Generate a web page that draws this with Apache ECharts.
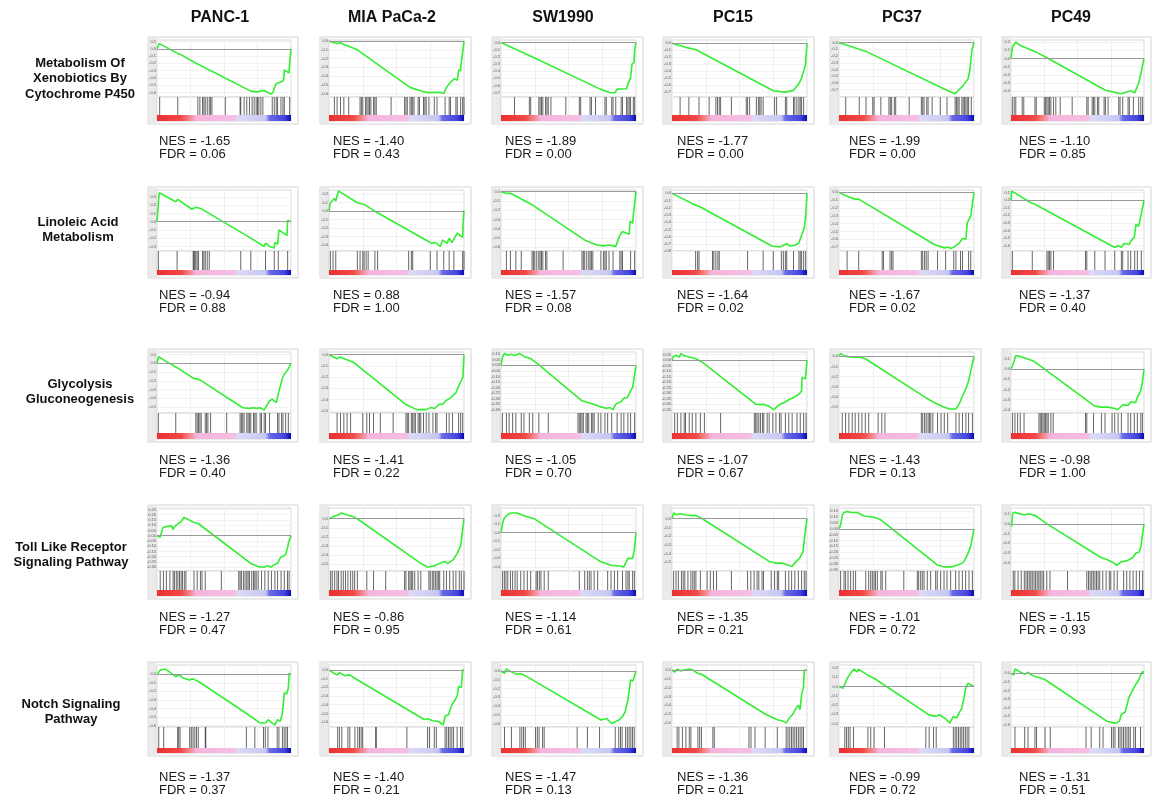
<!DOCTYPE html>
<html>
<head>
<meta charset="utf-8">
<script src="https://cdn.jsdelivr.net/npm/echarts@6.0.0/dist/echarts.min.js"></script>
<style>
  html, body { margin: 0; padding: 0; background: #fff; }
  #main { width: 1153px; height: 801px; }
</style>
</head>
<body>
<div id="main"></div>
<script>
const cellLines = ['PANC-1', 'MIA PaCa-2', 'SW1990', 'PC15', 'PC37', 'PC49'];
const pathways = [
  ['Metabolism Of', 'Xenobiotics By', 'Cytochrome P450'],
  ['Linoleic Acid', 'Metabolism'],
  ['Glycolysis', 'Gluconeogenesis'],
  ['Toll Like Receptor', 'Signaling Pathway'],
  ['Notch Signaling', 'Pathway']
];
const nesValues = [
  ['-1.65', '-1.40', '-1.89', '-1.77', '-1.99', '-1.10'],
  ['-0.94', '0.88', '-1.57', '-1.64', '-1.67', '-1.37'],
  ['-1.36', '-1.41', '-1.05', '-1.07', '-1.43', '-0.98'],
  ['-1.27', '-0.86', '-1.14', '-1.35', '-1.01', '-1.15'],
  ['-1.37', '-1.40', '-1.47', '-1.36', '-0.99', '-1.31']
];
const fdrValues = [
  ['0.06', '0.43', '0.00', '0.00', '0.00', '0.85'],
  ['0.88', '1.00', '0.08', '0.02', '0.02', '0.40'],
  ['0.40', '0.22', '0.70', '0.67', '0.13', '1.00'],
  ['0.47', '0.95', '0.61', '0.21', '0.72', '0.93'],
  ['0.37', '0.21', '0.13', '0.21', '0.72', '0.51']
];

// running enrichment score: [position in ranked list (%), ES]
const esXeno = [
  [[0,0],[1.7,0.07],[15,-0.06],[17.5,-0.077],[28.8,-0.195],[70,-0.58],[74,-0.59],[80,-0.57],[85,-0.62],[86.5,-0.6],[87.5,-0.545],[88.8,-0.48],[92.5,-0.455],[94.5,-0.43],[95,-0.29],[98.5,-0.33],[99,-0.2],[100,0]],
  [[0,0],[3.7,-0.02],[6,-0.027],[8.5,-0.02],[12,-0.046],[21,-0.1],[60,-0.53],[70,-0.58],[74,-0.59],[82,-0.585],[85,-0.6],[86.6,-0.54],[90,-0.47],[93,-0.43],[95,-0.45],[96,-0.33],[97.5,-0.34],[98,-0.24],[99.3,-0.1],[100,0]],
  [[0,0],[10,-0.086],[21,-0.18],[73.5,-0.65],[81,-0.7],[84.5,-0.7],[86,-0.65],[93,-0.645],[94,-0.58],[96,-0.49],[97,-0.3],[98.5,-0.28],[99,-0.1],[100,0]],
  [[0,0],[10,-0.06],[17.5,-0.09],[75,-0.68],[84,-0.7],[90,-0.675],[94,-0.58],[96,-0.5],[97.5,-0.4],[98.8,-0.32],[100,0]],
  [[0,0],[5,-0.03],[20,-0.13],[81,-0.72],[86,-0.76],[88.5,-0.71],[92,-0.64],[95.6,-0.54],[97,-0.4],[98.5,-0.1],[100,0]],
  [[0,0],[1,0.137],[3.6,0.2],[7,0.157],[13,0.117],[19,0.077],[28,0],[71,-0.387],[83,-0.43],[90,-0.395],[93,-0.42],[94,-0.42],[95,-0.34],[96,-0.3],[97.6,-0.19],[98.5,-0.17],[100,0]]
];
const esLinoleic = [
  [[0,0],[0.8,0.18],[1.7,0.35],[14,0.24],[15.5,0.27],[26,0.15],[29,0.175],[32.5,0.16],[69,-0.19],[80,-0.3],[81,-0.26],[84,-0.3],[87.5,-0.32],[88,-0.25],[90,-0.275],[91,-0.1],[97,-0.17],[97.5,0.017],[100,0]],
  [[0,0],[1,0.1],[4,0.15],[5,0.12],[7,0.24],[21,0.1],[26,0.08],[34,0],[74,-0.36],[76,-0.38],[79,-0.37],[82.5,-0.42],[84,-0.34],[87.5,-0.38],[89,-0.32],[91,-0.37],[95,-0.26],[99,-0.31],[99.3,-0.16],[100,0.01]],
  [[0,0],[3.7,-0.018],[7,-0.018],[12,-0.054],[24,-0.15],[63,-0.53],[71,-0.575],[75.6,-0.585],[80,-0.575],[85,-0.59],[88,-0.47],[90,-0.43],[95,-0.46],[95.6,-0.32],[97.6,-0.34],[98,-0.25],[100,0]],
  [[0,0],[16,-0.15],[21,-0.19],[74,-0.73],[80,-0.745],[85,-0.7],[87.5,-0.73],[91,-0.72],[94,-0.69],[95,-0.71],[96,-0.58],[98,-0.48],[99,-0.32],[100,0]],
  [[0,0],[5,-0.043],[6,-0.03],[12,-0.087],[14.6,-0.087],[71,-0.67],[78,-0.71],[80.5,-0.7],[83,-0.717],[85,-0.7],[89,-0.65],[91.5,-0.59],[94,-0.6],[95,-0.39],[97.6,-0.3],[98.8,-0.3],[100,0]],
  [[0,0],[0.7,0.12],[14.6,-0.03],[18,-0.054],[75.6,-0.6],[78,-0.62],[80.5,-0.6],[83,-0.62],[85,-0.57],[89,-0.58],[90,-0.54],[92.7,-0.49],[94,-0.32],[96,-0.345],[97.6,-0.21],[100,0]]
];
const esGlyco = [
  [[0,0],[1.2,0.075],[7,0.02],[15,-0.05],[27,-0.17],[32,-0.19],[64,-0.51],[69,-0.517],[72,-0.51],[74,-0.517],[77,-0.51],[80,-0.535],[84,-0.43],[86,-0.41],[89,-0.45],[91,-0.32],[94,-0.15],[97.5,-0.075],[100,0]],
  [[0,0],[6,-0.036],[8,-0.021],[18,-0.067],[57,-0.445],[65,-0.49],[72,-0.49],[75.6,-0.47],[78,-0.48],[82,-0.44],[84,-0.445],[86.6,-0.41],[90,-0.385],[94,-0.34],[96,-0.28],[98,-0.23],[99.2,-0.2],[100,0]],
  [[0,0],[1.2,0.076],[2.5,0.107],[5,0.091],[7.4,0.1],[10,0.088],[13.6,0.107],[17,0.08],[22,0.061],[27,0.015],[60,-0.32],[67,-0.345],[74,-0.375],[78,-0.387],[80.5,-0.38],[83,-0.4],[85,-0.35],[89,-0.326],[91,-0.296],[93.6,-0.29],[96,-0.23],[97.5,-0.2],[98.8,-0.21],[100,0]],
  [[0,0],[1,0.034],[3,0.043],[5.4,0.028],[6.6,0.06],[9,0.04],[12.8,0.028],[17.7,0.012],[22.6,-0.02],[62,-0.4],[65.6,-0.404],[68,-0.4],[72,-0.42],[75.4,-0.45],[78,-0.42],[80,-0.4],[84,-0.38],[86.5,-0.36],[90,-0.34],[94,-0.31],[96,-0.28],[96.3,-0.157],[98.8,-0.17],[100,0]],
  [[0,0],[1.2,0.027],[5,0],[10,-0.007],[14.6,-0.007],[19.5,-0.023],[66,-0.42],[71,-0.457],[78,-0.5],[82,-0.517],[86.6,-0.517],[89,-0.47],[91.5,-0.39],[94,-0.32],[96,-0.24],[98,-0.12],[100,0]],
  [[0,0],[1.2,0.033],[2.4,0.05],[3.6,0.13],[7.3,0.12],[12,0.1],[17,0.076],[24,0.01],[63,-0.363],[68,-0.373],[73,-0.373],[78,-0.386],[80.5,-0.396],[84,-0.35],[88,-0.356],[90,-0.32],[93.6,-0.33],[95,-0.28],[97.6,-0.21],[98.8,-0.13],[100,0]]
];
const esToll = [
  [[0,0],[2.4,-0.015],[3.6,-0.03],[4.3,0.075],[6,0.084],[8.4,0.09],[9.6,0.075],[10.8,0.096],[12,0.06],[13,0.084],[15.6,0.114],[18,0.135],[20,0.174],[23,0.156],[27.6,0.126],[31,0.114],[70.7,-0.27],[75.5,-0.294],[80,-0.3],[82.5,-0.285],[85,-0.3],[87.5,-0.276],[90,-0.264],[92,-0.21],[96,-0.18],[97.6,-0.105],[98.3,-0.06],[100,0]],
  [[0,0],[3.5,0.026],[7,0.044],[9.4,0.063],[13,0.044],[18.8,0.018],[22,-0.011],[68,-0.49],[73,-0.53],[77.6,-0.52],[82,-0.49],[86,-0.47],[88,-0.49],[92,-0.45],[95,-0.38],[97.6,-0.29],[99,-0.12],[100,0]],
  [[0,0],[1.2,0.11],[2.5,0.17],[5,0.21],[7.4,0.227],[12,0.227],[17,0.196],[25,0.157],[74,-0.34],[81.5,-0.38],[89,-0.392],[91,-0.4],[94,-0.3],[97.5,-0.3],[98.8,-0.2],[100,0]],
  [[0,0],[1.2,0.065],[3.5,0.046],[5.9,0.058],[10.6,0.042],[15,0.035],[17.5,0.038],[22.5,0],[72,-0.49],[77,-0.51],[81.5,-0.51],[86,-0.53],[88.6,-0.55],[91,-0.51],[94.6,-0.45],[97,-0.38],[98,-0.24],[99,-0.11],[100,0]],
  [[0,0],[1.2,0.035],[2.5,0.12],[3.7,0.14],[6,0.15],[8.6,0.14],[13.6,0.14],[18.5,0.11],[26,0.1],[31,0.078],[73,-0.31],[78,-0.326],[83,-0.326],[88,-0.31],[90,-0.3],[92.6,-0.28],[95,-0.225],[97.5,-0.15],[98.8,-0.16],[100,0]],
  [[0,0],[0.5,-0.028],[1.2,0.11],[2.9,0.118],[6.5,0.104],[10,0.094],[13.7,0.104],[18.5,0.083],[22,0.049],[27,0],[67.6,-0.347],[72,-0.368],[77,-0.4],[79.6,-0.427],[83,-0.39],[87,-0.382],[89,-0.368],[91.6,-0.347],[94,-0.3],[96.4,-0.29],[97.6,-0.24],[100,0]]
];
const esNotch = [
  [[0,0],[1.3,-0.015],[2.6,0.05],[3.8,0.04],[5.9,0.062],[9,0.03],[14,-0.027],[16.7,-0.008],[19,-0.04],[24,-0.066],[26.7,-0.054],[31,-0.085],[68,-0.47],[77,-0.57],[81,-0.57],[83,-0.53],[86,-0.57],[88,-0.59],[90,-0.53],[92,-0.55],[93.6,-0.45],[95,-0.22],[96.7,-0.23],[98,-0.16],[98.7,0.01],[100,0]],
  [[0,0],[3.8,-0.04],[6.4,-0.057],[7.7,-0.027],[11.5,-0.065],[15.4,-0.057],[19,-0.095],[70.5,-0.57],[73,-0.56],[77,-0.584],[80.8,-0.59],[84.6,-0.63],[86,-0.53],[88.5,-0.515],[91,-0.4],[93.6,-0.34],[94.9,-0.3],[96,-0.19],[98,-0.2],[99,0],[100,0]],
  [[0,0],[1.3,-0.008],[2.6,-0.027],[3.8,0.023],[6.4,0],[7.7,0.011],[11.5,-0.038],[14,-0.027],[18,-0.053],[74,-0.56],[78,-0.542],[82,-0.6],[84.6,-0.58],[87.2,-0.562],[90,-0.52],[92,-0.466],[94,-0.33],[96,-0.1],[97.7,-0.115],[100,0]],
  [[0,0],[2,-0.026],[3.8,0.011],[6.4,-0.011],[9,0],[12.8,0.011],[15.4,0],[19,-0.038],[21.8,-0.049],[69,-0.5],[78,-0.564],[82,-0.58],[84.6,-0.6],[87,-0.545],[90,-0.49],[92,-0.43],[93.6,-0.4],[94.9,-0.45],[96,-0.28],[97.4,-0.2],[98,0],[100,0]],
  [[0,0],[3,-0.018],[4.3,-0.036],[5.6,0.072],[6.9,0.108],[9.4,0.16],[11.2,0.19],[13.3,0.16],[14.5,0.19],[21,0.126],[23.5,0.108],[26,0.09],[67,-0.31],[72,-0.324],[74.5,-0.306],[79.6,-0.36],[82,-0.396],[84.7,-0.324],[87.2,-0.342],[88.5,-0.3],[91,-0.234],[92.3,-0.144],[93.6,-0.036],[95.4,0.036],[100,0]],
  [[0,0],[2,-0.02],[3,0.05],[6.4,0.02],[10.3,-0.012],[12.8,0.012],[15.4,-0.02],[19,-0.04],[23,-0.058],[26,-0.078],[72,-0.56],[77,-0.58],[79.5,-0.58],[81.5,-0.56],[83,-0.48],[86,-0.45],[88.5,-0.29],[91,-0.21],[93.6,-0.136],[96,-0.078],[97.4,-0.058],[98.7,0.02],[100,0.01]]
];

// gene set members along the ranked list (%)
const hitsXeno = [
  [2,15.5,30.5,32,34,35,36,37.5,39,40,41,51,62,62.5,65,67,69,71,72.5,74,75,76,77.5,79,86,87.5,89,90,92.5,94,95,99],
  [4,6,8.5,11,14.6,23,24,25,27,28,29,30,31,33,34,35,46,56,57,58,60,61,62,63,66,67,70,71,72,74,78,80,86,89,90,94,95,97.5,99,100],
  [10,21,22,28,29,30,31,33,34,35,37,48,58,59,66,67,70,77,78,82,83,85,89,90,93,94,95,96,98,99],
  [6,12.5,20,27.5,32.5,33.7,35,36,44,55,56,57.5,62.5,64,65,66,67.5,76,77.5,84,85,90,91,92.5,94,95,96,97.5],
  [5,15,20,25,26,31,37,38,39,41,42,52,61,62,63,65,66,69,75,80,86,87,88,89,91,92,93,94,95,96,98],
  [1,2.4,3.6,8.4,9.6,18,19,25,26,27,28,29,30,32,33.7,37,46,57,58,61,62,63,65,66,70,71,73,81,82,84,88,89,92,96,97.6,99]
];
const hitsLinoleic = [
  [1,15,27,27.5,28.2,29,30,31,34,35,36,37.5,39,62.5,70,81,87.5,90.5,97.5],
  [1,3,5,21,23,25,26,27.5,29,34,36,59,61,62,75,80,85,89,92.5,99,100],
  [4,7,11,15,23,24,25,26.5,28,29,30,31,33,34,46,60,61,62,63.5,65,66,67,68,74,76,77,78,80,83,88,89,90,96,99],
  [17.5,19,20,30,31,32.5,34,35,56,67.5,75,81,82.5,84,85,90,94,95,96,97.5,99],
  [6,14.6,32,33,37.8,39,40,61,62,63.4,64.6,66,73,79,85,86.6,90,91.5,96,97.6],
  [1,16,27,28,29,30,32,56,57,63,70.7,78,83,84,88,90,93,95,98]
];
const hitsGlyco = [
  [1,14,29,30,31,32,33,36,37,38,40,52,62,63,64,65,67,68,69,70,72,73,74,77,78,80,81,84,90,91,93,94,96,98],
  [6,8.5,11,13.4,16,25,28,30,33,38,47.5,57,58,59,61,62,63,64,66,67,68,70,72,74,77,79,80,87,89,91.5,96,97.5,99],
  [1,4,6,8.6,11,15,17,21,23.5,28,35,57,58,59,60,61,63,64,65,67,68,69,72,74,77,79,82,86,89,91,94,96,99],
  [2,4,6.6,9,10,12.8,15,17.7,21,24,36,61,62,63,64.3,65.6,67,68,70.5,72,74.7,77,79.6,80.8,84,86.5,89,92.6,95,97.5,99.3],
  [2.4,4.9,7.3,9.8,12,14.6,17,19.5,22,29,31.7,34,61,62,63.4,64.6,66,67,68,69.5,73,75.6,78,80.5,86.6,89,91.5,94,96,98.8],
  [1.2,3,5,7,9.8,21,22,23,24,25,26,27,28,30,31.7,56,57,62,68,70.7,76,78,80.5,83,88,90,92.7,95,97.6,98.8]
];
const hitsToll = [
  [2.4,4.8,7,9.6,12,13,14.4,15.6,16.8,18,19,20.4,21.6,27.6,30,32.4,33.6,36,48,61,62,63,64.5,65.7,67,68,69,70.7,72,73,74,75.5,78,80.5,83,85.4,88,90,92.6,95,97.4,98.6],
  [1.2,2.4,4.2,5.9,7,9,10.6,12.2,14,16,17.6,19,21,28,33,42,56,57,59,60,61,62,63.5,66,68,74,75,76.5,77.6,78.8,80,81,82,85,87,89.4,92,94,96.5,98,100],
  [1.2,2.5,3.7,5,7,8.6,10.4,12,14.6,17,19.5,22,26,27,28.4,29.6,32,35,58,62,64,65.4,66.7,69,71.6,79,81.5,84,86.4,90,92.6,94,95,97.5,98.8],
  [1.2,3,4.7,7,8.3,9.5,11.8,14,15.4,16.5,17.7,21,26,28.4,30.7,33,44,56,58.4,60.8,63,64.3,66.7,67.8,73.5,76,78,79,84,86.5,88.6,91,93.6,96,98,99.3],
  [1.2,3.7,4.9,6.7,8.6,10.6,12.3,19.8,22,23.5,24.7,26,27,28.4,31,32,34.6,48,58,59,60.5,61.7,63,65.4,67.9,71.6,72.8,75.3,77.8,80,82.7,86.4,88.9,91.4,93.8,96.3,98.8],
  [1.7,2.9,5.3,7.7,10,11.3,12.5,13.7,14.9,16,17.3,18.5,19.7,20.9,22,23.3,24.5,26.9,29.3,42.5,57,58.3,59.5,60.7,61.9,63.1,64.3,65.5,66.7,69,71.5,73.9,75,77.5,79.9,84.7,87,89.4,91.8,94.2,96.6,99]
];
const hitsNotch = [
  [1.3,5,15.4,16.2,17.2,24.4,25.6,26.9,28.2,29.5,30.8,36,36.4,66.7,73,79.5,80.8,82.8,89.7,91,93.6,94.9,96.2,97.4],
  [6.4,7.7,9.5,14,15.4,19.2,21.3,22.6,23.8,24.9,34.6,35,57.7,73,74.4,78,79.5,86,87.2,88.5,89.7,91,92.3,94.9,97.4,98.7],
  [2.6,7.7,14,15.4,16.7,18,25.6,26.9,28.2,30.8,32,56.4,64,73,84.6,87.2,88.5,89.7,92.3,93.6,94.9,96.2,97.4,98.7],
  [3.8,5.1,7.7,10.3,12.8,14,19.2,20.5,21.8,30.3,31.3,57,58.5,61.5,69,78,84.6,85.9,87.2,88.5,89.7,91,92.3,93.6,94.9,96.2,97.4],
  [4.3,5.6,6.9,8.2,10.7,21.4,23.5,26,33.7,64.3,66.8,70,72,84.7,86,87.2,88.5,89.8,91,92.3,93.6,94.9,96.2],
  [3,10.3,12.8,18,19.2,25.6,29.5,56.4,60.3,66.7,69.2,75.6,76.9,78.2,80.8,82,83.3,84.6,85.9,87.2,88.5,89.7,92.3,93.6,97.4]
];

// ES axis extent [min, max] and tick labels of each small plot
const yRangeXeno = [[-0.66,0.12],[-0.64,0.012],[-0.76,0.036],[-0.77,0.045],[-0.81,0.04],[-0.47,0.225]];
const yRangeLinoleic = [[-0.355,0.383],[-0.47,0.25],[-0.64,0.018],[-0.8,0.047],[-0.75,0.03],[-0.67,0.135]];
const yRangeGlyco = [[-0.57,0.13],[-0.52,0.024],[-0.43,0.12],[-0.48,0.074],[-0.557,0.043],[-0.43,0.165]];
const yRangeToll = [[-0.336,0.264],[-0.574,0.118],[-0.447,0.286],[-0.6,0.123],[-0.361,0.179],[-0.486,0.163]];
const yRangeNotch = [[-0.616,0.108],[-0.656,0.057],[-0.64,0.069],[-0.647,0.056],[-0.439,0.234],[-0.628,0.097]];

const ticksA = [0.1,0,-0.1,-0.2,-0.3,-0.4,-0.5,-0.6];
const ticksB = [0,-0.1,-0.2,-0.3,-0.4,-0.5,-0.6];
const ticksC = [0,-0.1,-0.2,-0.3,-0.4,-0.5,-0.6,-0.7];
const ticksD = [0.2,0.1,0,-0.1,-0.2,-0.3,-0.4];
const ticksE = [0,-0.1,-0.2,-0.3,-0.4,-0.5];
const ticksF = [0.1,0,-0.1,-0.2,-0.3,-0.4,-0.5];
const ticksG = [0.1,0,-0.1,-0.2,-0.3,-0.4];
const yTicksXeno = [ticksA, ticksB, ticksC, ticksC, ticksC, ticksD];
const yTicksLinoleic = [[0.3,0.2,0.1,0,-0.1,-0.2,-0.3], ticksD, ticksB, [0,-0.1,-0.2,-0.3,-0.4,-0.5,-0.6,-0.7,-0.8], ticksC, ticksA];
const yTicksGlyco = [ticksF, ticksE, [0.1,0.05,0,-0.05,-0.1,-0.15,-0.2,-0.25,-0.3,-0.35,-0.4], [0.05,0,-0.05,-0.1,-0.15,-0.2,-0.25,-0.3,-0.35,-0.4,-0.45], ticksE, ticksG];
const yTicksToll = [[0.25,0.2,0.15,0.1,0.05,0,-0.05,-0.1,-0.15,-0.2,-0.25,-0.3], ticksE, ticksD, ticksE, [0.15,0.1,0.05,0,-0.05,-0.1,-0.15,-0.2,-0.25,-0.3,-0.35], ticksG];
const yTicksNotch = [ticksB, ticksB, ticksB, ticksB, ticksD, ticksB];

const esRows = [esXeno, esLinoleic, esGlyco, esToll, esNotch];
const hitRows = [hitsXeno, hitsLinoleic, hitsGlyco, hitsToll, hitsNotch];
const rangeRows = [yRangeXeno, yRangeLinoleic, yRangeGlyco, yRangeToll, yRangeNotch];
const tickRows = [yTicksXeno, yTicksLinoleic, yTicksGlyco, yTicksToll, yTicksNotch];

// layout
const colLeft = [157, 329, 501, 672, 839, 1011];
const colWidth = [134, 135, 135, 135, 135, 133];
const textX = [159, 333, 505, 677, 849, 1019];
const headerX = [220, 392, 563, 733, 902, 1071];
const rowBox = [
  {top: 40, es: 97, hits: 115, bar: 121, nes: 141},
  {top: 190, es: 251, hits: 270, bar: 275, nes: 295},
  {top: 352, es: 413, hits: 433, bar: 439, nes: 460},
  {top: 508, es: 571, hits: 590, bar: 596, nes: 617},
  {top: 665, es: 727, hits: 748, bar: 753, nes: 777}
];
const labelX = [80, 78, 80, 71, 71];
const labelY = [63, 222, 384, 547, 704];

const rankStops = [
  {offset: 0, color: '#ec3030'}, {offset: 0.18, color: '#f04848'},
  {offset: 0.23, color: '#f57a7a'}, {offset: 0.27, color: '#f59cb4'},
  {offset: 0.29, color: '#f6b4dc'}, {offset: 0.58, color: '#f5bee2'},
  {offset: 0.6, color: '#dcdaf7'}, {offset: 0.81, color: '#c6c6f4'},
  {offset: 0.84, color: '#6a6ae8'}, {offset: 0.95, color: '#4444de'},
  {offset: 1, color: '#0a0ab4'}
];
const font = '"Liberation Sans", Arial, sans-serif';

const chart = echarts.init(document.getElementById('main'));
const grid = [], xAxis = [], yAxis = [], series = [], graphic = [];

rowBox.forEach((rb, r) => {
  for (let c = 0; c < 6; c++) {
    const L = colLeft[c], W = colWidth[c];
    graphic.push({type: 'rect', z: -20, shape: {x: L - 9, y: rb.top - 3, width: W + 16, height: rb.bar - rb.top + 6},
      style: {fill: '#fff', stroke: '#d4d4d4', lineWidth: 1}});
    graphic.push({type: 'rect', z: -19, shape: {x: L - 8, y: rb.top - 2, width: 8, height: rb.bar - rb.top + 4},
      style: {fill: '#eaeaea'}});

    // enrichment score plot
    const gEs = grid.length;
    grid.push({left: L, top: rb.top, width: W, height: rb.es - rb.top, show: true,
      backgroundColor: '#fff', borderColor: '#d6d6d6', borderWidth: 1});
    xAxis.push({type: 'value', gridIndex: gEs, min: 0, max: 100, interval: 25,
      axisLine: {show: false}, axisTick: {show: false}, axisLabel: {show: false},
      splitLine: {lineStyle: {color: '#f0f0f0'}}});
    const ticks = tickRows[r][c];
    const dec = ticks.some(t => Math.abs(t * 10 - Math.round(t * 10)) > 1e-6) ? 2 : 1;
    yAxis.push({type: 'value', gridIndex: gEs, min: rangeRows[r][c][0], max: rangeRows[r][c][1],
      axisLine: {show: false},
      axisTick: {show: false, customValues: ticks},
      axisLabel: {customValues: ticks, fontSize: 4, color: '#555', margin: 1, fontFamily: font,
        formatter: v => v.toFixed(dec)},
      splitLine: {lineStyle: {color: '#f2f2f2'}}});
    series.push({type: 'line', xAxisIndex: gEs, yAxisIndex: gEs, data: esRows[r][c],
      symbol: 'none', silent: true, animation: false,
      lineStyle: {color: '#33ee33', width: 1.6}, itemStyle: {color: '#33ee33'},
      markLine: {silent: true, symbol: 'none', animation: false, label: {show: false},
        lineStyle: {color: '#999999', width: 1, type: 'solid'}, data: [{yAxis: 0}]}});

    // hits and ranked list metric bar
    const gH = grid.length;
    const barFrac = (rb.bar - rb.hits) / (rb.bar - rb.es);
    grid.push({left: L, top: rb.es, width: W, height: rb.bar - rb.es, show: true,
      backgroundColor: '#fff', borderColor: '#d6d6d6', borderWidth: 1});
    xAxis.push({type: 'value', gridIndex: gH, min: 0, max: 100, interval: 25,
      axisLine: {show: false}, axisTick: {show: false}, axisLabel: {show: false},
      splitLine: {lineStyle: {color: '#f0f0f0'}}});
    yAxis.push({type: 'value', gridIndex: gH, min: 0, max: 1, show: false, splitLine: {show: false}});
    series.push({type: 'custom', xAxisIndex: gH, yAxisIndex: gH, silent: true, animation: false,
      data: hitRows[r][c].map(v => [v, 1]), encode: {x: 0, y: 1},
      renderItem: (params, api) => {
        const p0 = api.coord([api.value(0), barFrac]);
        const p1 = api.coord([api.value(0), api.value(1)]);
        return {type: 'line', shape: {x1: p0[0], y1: p0[1], x2: p1[0], y2: p1[1]},
          style: {stroke: 'rgba(0,0,0,0.6)', lineWidth: 1}};
      }});
    series.push({type: 'custom', xAxisIndex: gH, yAxisIndex: gH, silent: true, animation: false,
      data: [[0, 100]], encode: {x: [0, 1]},
      renderItem: (params, api) => {
        const a = api.coord([api.value(0), barFrac]);
        const b = api.coord([api.value(1), 0]);
        return {type: 'rect', shape: {x: a[0], y: a[1], width: b[0] - a[0], height: b[1] - a[1]},
          style: {fill: new echarts.graphic.LinearGradient(0, 0, 1, 0, rankStops)}};
      }});

    graphic.push({type: 'text', x: textX[c], y: rb.nes,
      style: {text: 'NES = ' + nesValues[r][c], font: '13px ' + font, fill: '#1a1a1a',
        textVerticalAlign: 'middle', verticalAlign: 'middle'}});
    graphic.push({type: 'text', x: textX[c], y: rb.nes + 13.5,
      style: {text: 'FDR = ' + fdrValues[r][c], font: '13px ' + font, fill: '#1a1a1a',
        textVerticalAlign: 'middle', verticalAlign: 'middle'}});
  }
  pathways[r].forEach((line, i) => {
    graphic.push({type: 'text', x: labelX[r], y: labelY[r] + i * 15.5,
      style: {text: line, font: 'bold 13px ' + font, fill: '#111',
        textAlign: 'center', align: 'center', textVerticalAlign: 'middle', verticalAlign: 'middle'}});
  });
});

cellLines.forEach((name, c) => {
  graphic.push({type: 'text', x: headerX[c], y: 18,
    style: {text: name, font: 'bold 16px ' + font, fill: '#111',
      textAlign: 'center', align: 'center', textVerticalAlign: 'middle', verticalAlign: 'middle'}});
});

chart.setOption({animation: false, grid, xAxis, yAxis, series, graphic});
</script>
</body>
</html>
